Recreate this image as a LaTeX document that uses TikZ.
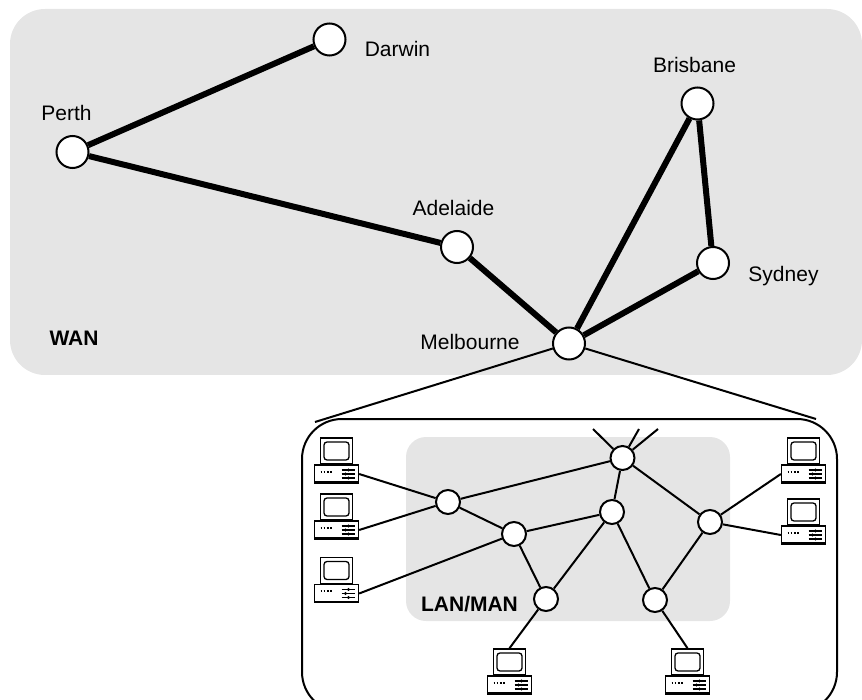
\documentclass[tikz,border=0pt]{standalone}
\usepackage{fontspec}
\setmainfont{Liberation Sans}
\usetikzlibrary{shapes.geometric}
\definecolor{areagray}{HTML}{E5E5E5}
\tikzstyle{wanarea} = [rectangle, rounded corners=35pt, minimum width=852pt, minimum height=366pt, fill=areagray, inner sep=0pt]
\tikzstyle{lanarea} = [rectangle, rounded corners=20pt, minimum width=324pt, minimum height=184pt, fill=areagray, inner sep=0pt]
\tikzstyle{enclosure} = [rectangle, rounded corners=40pt, minimum width=535pt, minimum height=293pt, draw=black, line width=2pt, inner sep=0pt]
\tikzstyle{city} = [circle, minimum size=32pt, inner sep=0pt, draw=black, fill=white, line width=2pt]
\tikzstyle{router} = [circle, minimum size=24pt, inner sep=0pt, draw=black, fill=white, line width=2pt]
\tikzstyle{label} = [font=\fontsize{21}{24}\selectfont, text=black, inner sep=0pt]
\tikzstyle{arealabel} = [font=\fontsize{21}{24}\selectfont\bfseries, text=black, inner sep=0pt]
\tikzstyle{trunk} = [line width=6pt]
\tikzstyle{link} = [line width=2pt]
\tikzset{computer/.pic={
  \node (-screen) [rectangle, minimum width=32pt, minimum height=26pt, inner sep=0pt, draw=black, line width=1.6pt, fill=white] at (0,-23) {};
  \draw [line width=1.3pt, rounded corners=3pt] (-12.5,-32) rectangle (12.5,-14);
  \node (-base) [rectangle, minimum width=44pt, minimum height=18pt, inner sep=0pt, draw=black, line width=1.3pt, fill=white] at (0,0) {};
  \draw [line width=2.5pt] (-22,8.5) -- (22,8.5);
  \draw [line width=2pt, dash pattern=on 1.6pt off 1.6pt] (-16,-2.5) -- (-4,-2.5);
  \draw [line width=1.2pt] (5,-4) -- (18,-4) (5,0) -- (18,0) (5,4) -- (18,4);
  \fill (12,-4) circle (1.6pt) (9,0) circle (1.6pt) (12,4) circle (1.6pt);
}}

\begin{document}
\begin{tikzpicture}[x=1pt, y=-1pt]
  \clip (0,0) rectangle (862,700);
  \node (wan) [wanarea] at (436,192) {};
  \node (enclose) [enclosure] at (569.5,565.5) {};
  \node (lan) [lanarea] at (568,529) {};
  % wide area
  \node (darwin) [city] at (329.5,39.5) {};
  \node (perth) [city] at (72.5,152) {};
  \node (adelaide) [city] at (457,247) {};
  \node (brisbane) [city] at (697.5,103.5) {};
  \node (sydney) [city] at (713,263) {};
  \node (melbourne) [city] at (569,343.5) {};
  \node (darwinlabel) [label] at (397.5,49) {Darwin};
  \node (perthlabel) [label] at (66.5,113) {Perth};
  \node (adelaidelabel) [label] at (453.5,208) {Adelaide};
  \node (brisbanelabel) [label] at (694.5,65) {Brisbane};
  \node (sydneylabel) [label] at (783.5,276) {Sydney};
  \node (melbournelabel) [label] at (470,342) {Melbourne};
  \node (wanlabel) [arealabel] at (74,338) {WAN};
  \draw [trunk] (perth) -- (darwin);
  \draw [trunk] (perth) -- (adelaide);
  \draw [trunk] (adelaide) -- (melbourne);
  \draw [trunk] (melbourne) -- (brisbane);
  \draw [trunk] (melbourne) -- (sydney);
  \draw [trunk] (brisbane) -- (sydney);
  \coordinate (zoomleft) at (315,422);
  \coordinate (zoomright) at (816,419);
  \draw [link] (melbourne) -- (zoomleft);
  \draw [link] (melbourne) -- (zoomright);
  % local area
  \node (ra) [router] at (448,502) {};
  \node (rb) [router] at (514,534) {};
  \node (rc) [router] at (612,512) {};
  \node (rd) [router] at (622.5,458) {};
  \node (re) [router] at (710,522) {};
  \node (rf) [router] at (546,599) {};
  \node (rg) [router] at (655,600) {};
  \node (lanlabel) [arealabel] at (469.5,604) {LAN/MAN};
  \pic (pca) at (336.5,474) {computer};
  \pic (pcb) at (336.5,530) {computer};
  \pic (pcc) at (336.5,593.5) {computer};
  \pic (pcd) at (803.5,474) {computer};
  \pic (pce) at (803.5,535) {computer};
  \pic (pcf) at (509.5,685) {computer};
  \pic (pcg) at (687.5,685) {computer};
  \coordinate (stuba) at (593,429);
  \coordinate (stubb) at (639,429);
  \coordinate (stubc) at (658,429);
  \draw [link] (rd) -- (stuba);
  \draw [link] (rd) -- (stubb);
  \draw [link] (rd) -- (stubc);
  \draw [link] (ra) -- (rd);
  \draw [link] (ra) -- (rb);
  \draw [link] (rb) -- (rc);
  \draw [link] (rb) -- (rf);
  \draw [link] (rc) -- (rd);
  \draw [link] (rc) -- (rf);
  \draw [link] (rc) -- (rg);
  \draw [link] (rd) -- (re);
  \draw [link] (re) -- (rg);
  \draw [link] (pca-base.east) -- (ra);
  \draw [link] (pcb-base.east) -- (ra);
  \draw [link] (pcc-base.east) -- (rb);
  \draw [link] (pcd-base.west) -- (re);
  \draw [link] (pce-base.west) -- (re);
  \draw [link] (rf) -- (pcf-screen.north);
  \draw [link] (rg) -- (pcg-screen.north);
\end{tikzpicture}
\end{document}
